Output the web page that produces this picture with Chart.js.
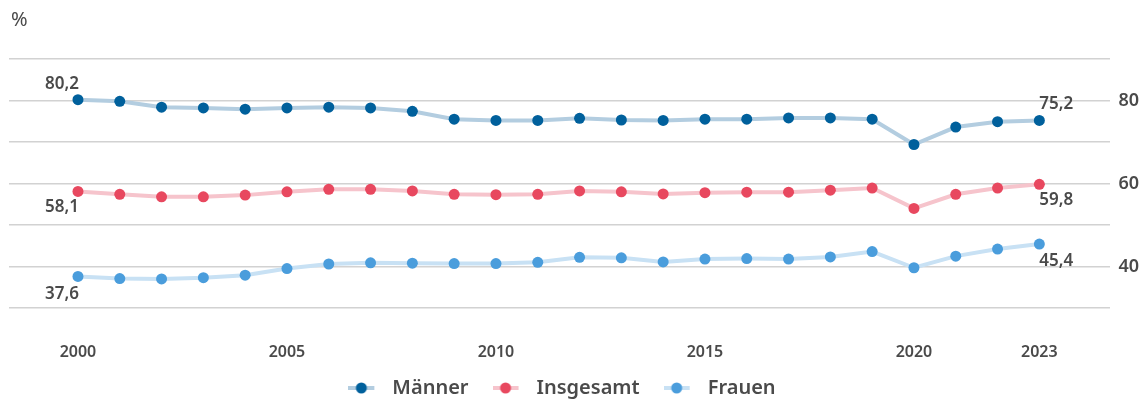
<!DOCTYPE html>
<html>
<head>
<meta charset="utf-8">
<script src="https://cdn.jsdelivr.net/npm/chart.js@4"></script>
<style>
  html, body { margin: 0; padding: 0; background: #fff; }
  #wrap { width: 1145px; height: 401px; position: relative; }
</style>
</head>
<body>
<div id="wrap"><canvas id="myChart"></canvas></div>
<script>
// Daten
const years = [2000, 2001, 2002, 2003, 2004, 2005, 2006, 2007, 2008, 2009, 2010, 2011,
  2012, 2013, 2014, 2015, 2016, 2017, 2018, 2019, 2020, 2021, 2022, 2023];
const maenner = [80.2, 79.8, 78.4, 78.2, 77.9, 78.2, 78.4, 78.2, 77.4, 75.5, 75.2, 75.2,
  75.7, 75.3, 75.2, 75.5, 75.5, 75.8, 75.8, 75.5, 69.4, 73.6, 74.9, 75.2];
const insgesamt = [58.1, 57.4, 56.8, 56.8, 57.2, 58.0, 58.6, 58.6, 58.2, 57.4, 57.3, 57.4,
  58.2, 58.0, 57.5, 57.8, 57.9, 57.9, 58.4, 58.9, 54.0, 57.4, 58.9, 59.8];
const frauen = [37.6, 37.1, 37.0, 37.3, 37.9, 39.5, 40.6, 40.9, 40.8, 40.7, 40.7, 41.0,
  42.2, 42.1, 41.1, 41.8, 41.9, 41.8, 42.3, 43.6, 39.7, 42.5, 44.2, 45.4];
const yearTicks = [2000, 2005, 2010, 2015, 2020, 2023];
const yLabels = [40, 60, 80];

const FONT = "'Noto Sans', 'Open Sans', sans-serif";
const TEXT = '#4a4a4a';

// Legendensymbol: Linie mit Punkt
function legendIcon(lineColor, dotColor) {
  const c = document.createElement('canvas');
  c.width = 34; c.height = 12;
  const ctx = c.getContext('2d');
  ctx.strokeStyle = lineColor;
  ctx.lineWidth = 4;
  ctx.beginPath();
  ctx.moveTo(0, 6); ctx.lineTo(26, 6);
  ctx.stroke();
  ctx.fillStyle = dotColor;
  ctx.beginPath();
  ctx.arc(13, 6, 5.5, 0, Math.PI * 2);
  ctx.fill();
  return c;
}

function series(label, values, line, dot) {
  return {
    label: label,
    data: years.map((y, i) => ({ x: y, y: values[i] })),
    borderColor: line,
    backgroundColor: dot,
    pointBackgroundColor: dot,
    pointBorderWidth: 0,
    pointRadius: 5.5,
    pointHoverRadius: 5.5,
    borderWidth: 4,
    tension: 0,
    pointStyle: 'circle',
    legendIcon: legendIcon(line, dot),
  };
}

const data = {
  datasets: [
    series('Männer', maenner, '#b3cde0', '#00609c'),
    series('Insgesamt', insgesamt, '#f6c4cc', '#e8485f'),
    series('Frauen', frauen, '#c8e1f4', '#4a9ddc'),
  ],
};

// Beschriftungen: "%" und Werte am Anfang/Ende
const labelsPlugin = {
  id: 'valueLabels',
  afterLayout(chart) {
    // Legende auf die Diagrammfläche zentrieren und etwas anheben
    const lg = chart.legend;
    if (lg) {
      lg.right -= 32;
      lg.top -= 10;
    }
  },
  afterDatasetsDraw(chart) {
    const ctx = chart.ctx;
    ctx.save();
    ctx.fillStyle = TEXT;
    ctx.font = '20px ' + FONT;
    ctx.textAlign = 'left';
    ctx.textBaseline = 'middle';
    ctx.fillText('%', 11, 20);

    ctx.font = '600 17px ' + FONT;
    const offs = [-16, 16, 18];
    const offsEnd = [-16, 16, 17];
    chart.data.datasets.forEach((ds, i) => {
      const pts = chart.getDatasetMeta(i).data;
      const first = pts[0], last = pts[pts.length - 1];
      const v0 = ds.data[0].y, v1 = ds.data[ds.data.length - 1].y;
      ctx.textAlign = 'right';
      ctx.fillText(v0.toFixed(1).replace('.', ','), first.x + 1, first.y + offs[i]);
      ctx.textAlign = 'left';
      ctx.fillText(v1.toFixed(1).replace('.', ','), last.x, last.y + offsEnd[i]);
    });
    ctx.restore();
  },
};

const config = {
  type: 'line',
  data: data,
  options: {
    responsive: true,
    maintainAspectRatio: false,
    animation: false,
    layout: { padding: { left: 9, right: -2, top: 59, bottom: 0 } },
    plugins: {
      legend: {
        position: 'bottom',
        maxHeight: 37,
        labels: {
          usePointStyle: true,
          pointStyleWidth: 34,
          padding: 24,
          color: TEXT,
          font: { family: FONT, size: 20, weight: '600' },
          generateLabels(chart) {
            return chart.data.datasets.map((ds, i) => ({
              text: ds.label,
              pointStyle: ds.legendIcon,
              fontColor: TEXT,
              lineWidth: 0,
              strokeStyle: 'transparent',
              fillStyle: ds.pointBackgroundColor,
              datasetIndex: i,
              hidden: false,
            }));
          },
        },
      },
      tooltip: { enabled: false },
      title: { display: false },
    },
    scales: {
      x: {
        type: 'linear',
        min: 1998.35,
        max: 2024.7,
        grid: { display: false, drawTicks: false },
        border: { display: false },
        afterBuildTicks(axis) {
          axis.ticks = yearTicks.map(v => ({ value: v }));
        },
        afterFit(axis) {
          axis.height = 56;
        },
        ticks: {
          padding: 35,
          color: TEXT,
          font: { family: FONT, size: 16, weight: '600' },
          callback: v => String(v),
          maxRotation: 0,
        },
      },
      y: {
        position: 'right',
        min: 30,
        max: 90,
        grid: { color: '#d2d2d2', lineWidth: 1.5, drawTicks: false },
        border: { display: false },
        ticks: {
          stepSize: 10,
          padding: 8,
          color: TEXT,
          font: { family: FONT, size: 18, weight: '600' },
          callback: v => (yLabels.includes(v) ? String(v) : ''),
        },
      },
    },
  },
  plugins: [labelsPlugin],
};

const myChart = new Chart(document.getElementById('myChart'), config);
</script>
</body>
</html>
